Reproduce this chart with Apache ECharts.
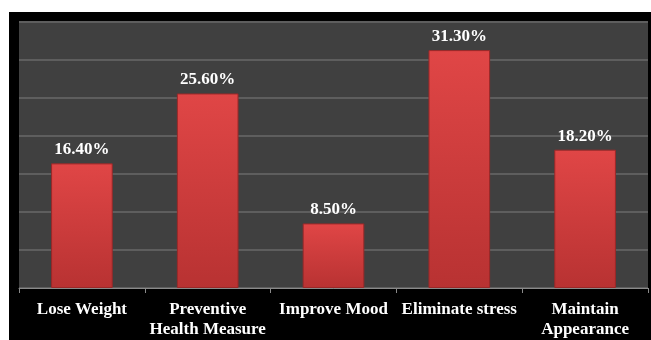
<!DOCTYPE html>
<html>
<head>
<meta charset="utf-8">
<script src="https://cdn.jsdelivr.net/npm/echarts@6/dist/echarts.min.js"></script>
<style>
html,body{margin:0;padding:0;background:#fff;}
#c{width:651px;height:340px;}
</style>
</head>
<body>
<div id="c"></div>
<script>
var categories = ['Lose Weight', 'Preventive\nHealth Measure', 'Improve Mood', 'Eliminate stress', 'Maintain\nAppearance'];
var values = [16.4, 25.6, 8.5, 31.3, 18.2];

var chart = echarts.init(document.getElementById('c'));
chart.setOption({
  backgroundColor: '#fff',
  animation: false,
  graphic: [{
    type: 'rect', z: -10, silent: true,
    shape: {x: 9, y: 12, width: 642, height: 328},
    style: {fill: '#000'}
  }],
  grid: {
    left: 19, top: 22, right: 3, bottom: 51,
    show: true, backgroundColor: '#404040', borderWidth: 0
  },
  xAxis: {
    type: 'category',
    data: categories,
    axisLine: {show: true, lineStyle: {color: '#8a8a8a', width: 1}},
    axisTick: {show: true, length: 5, lineStyle: {color: '#8a8a8a'}},
    axisLabel: {
      color: '#fff', fontFamily: 'Liberation Serif', fontWeight: 'bold',
      fontSize: 17, lineHeight: 20, margin: 12, interval: 0
    }
  },
  yAxis: {
    type: 'value', min: 0, max: 35, interval: 5,
    axisLabel: {show: false}, axisLine: {show: false}, axisTick: {show: false},
    splitLine: {show: true, lineStyle: {color: '#5e5e5e', width: 2}}
  },
  series: [{
    type: 'bar',
    data: values,
    barWidth: '49%',
    itemStyle: {
      color: new echarts.graphic.LinearGradient(0, 0, 0, 1, [
        {offset: 0, color: '#e04646'},
        {offset: 1, color: '#b83232'}
      ]),
      borderColor: '#9a2828', borderWidth: 1
    },
    label: {
      show: true, position: 'top', distance: 5,
      color: '#fff', fontFamily: 'Liberation Serif', fontWeight: 'bold', fontSize: 17,
      formatter: function (p) { return p.value.toFixed(2) + '%'; }
    }
  }]
});
</script>
</body>
</html>
